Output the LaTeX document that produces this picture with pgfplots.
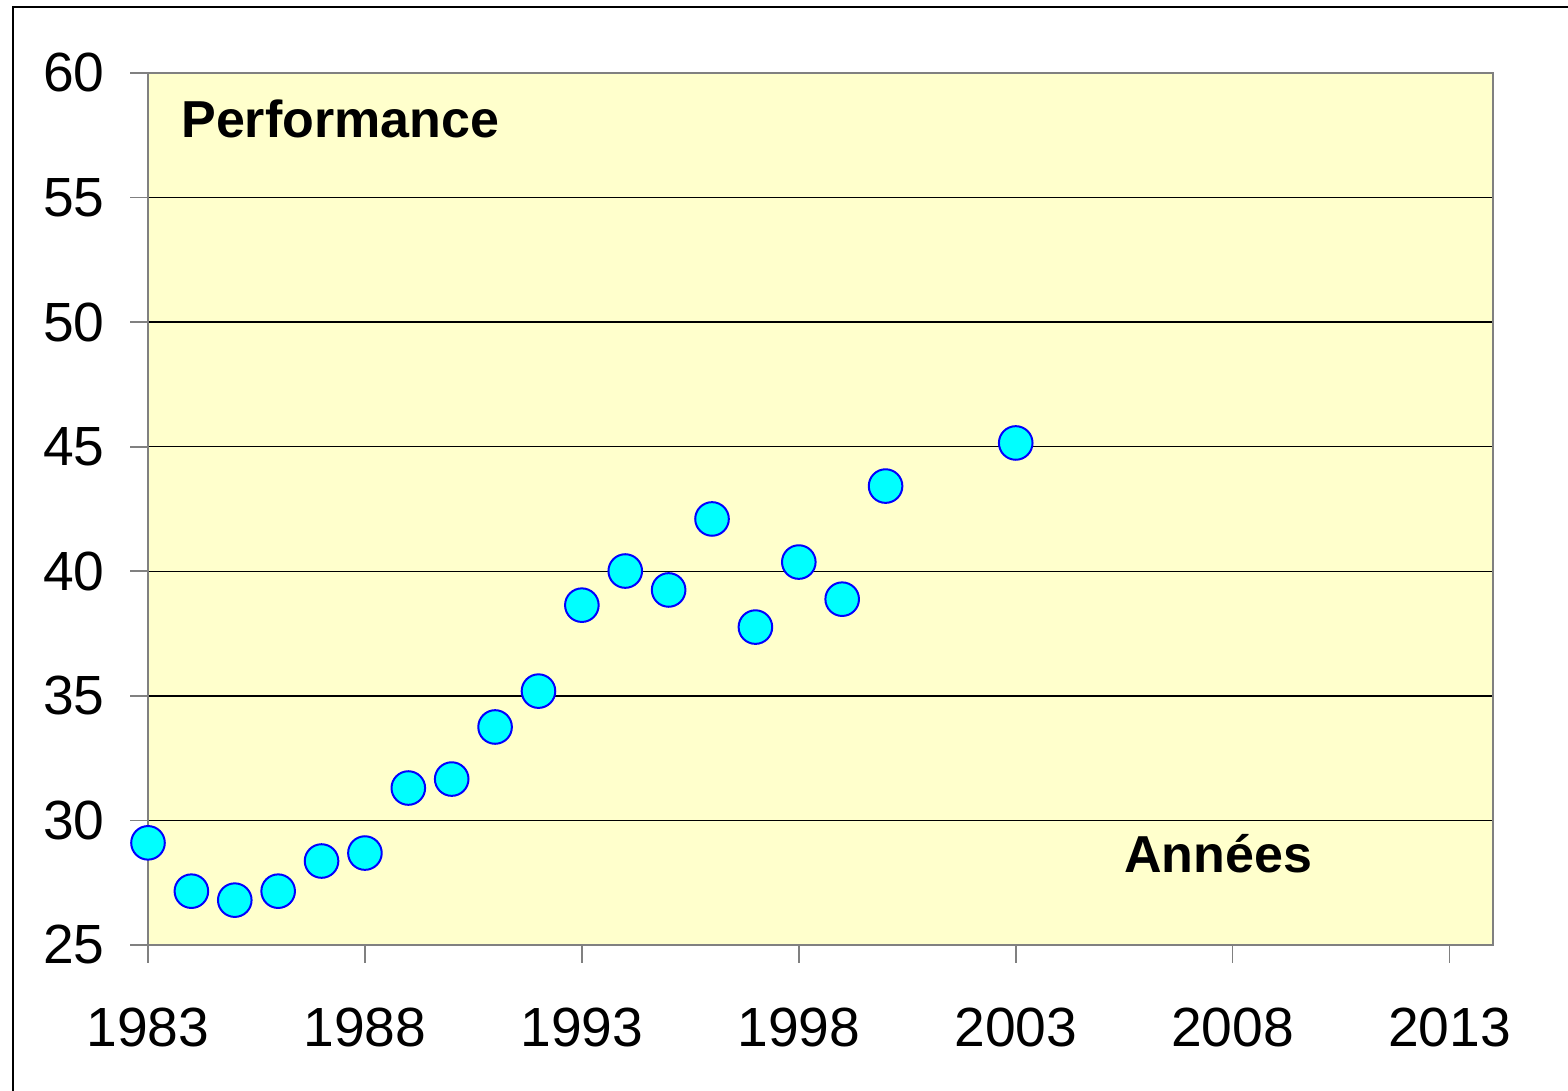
\documentclass[border=0pt]{standalone}
\usepackage{fontspec}
\setmainfont{Liberation Sans}
\usepackage{pgfplots}
\pgfplotsset{compat=1.18}
\definecolor{bgyellow}{HTML}{FFFFCC}
\definecolor{axgray}{HTML}{808080}
\definecolor{markcyan}{HTML}{00FFFF}
\definecolor{markblue}{HTML}{0000FF}
\begin{document}
\begin{tikzpicture}
\begin{axis}[
 at={(37pt,36.5pt)}, anchor=south west,
 width=336.25pt, height=218pt, scale only axis,
 xmin=1983, xmax=2014, ymin=25, ymax=60,
 xtick={1983,1988,1993,1998,2003,2008,2013},
 ytick={25,30,35,40,45,50,55,60},
 scaled ticks=false,
 /pgf/number format/1000 sep={},
 /pgf/number format/assume math mode=true,
 axis background/.style={fill=bgyellow},
 axis line style={axgray, line width=0.5pt},
 ymajorgrids, major grid style={black, line width=0.35pt},
 tick align=outside, major tick length=4.5pt,
 tick style={axgray, line width=0.4pt},
 xtick pos=bottom, ytick pos=left,
 ticklabel style={font=\fontsize{13.8}{16}\selectfont},
 xticklabel style={yshift=-7.7pt},
 yticklabel style={xshift=-2.8pt},
 clip=false,
]
\addplot[only marks, mark=*, mark size=4.2pt,
  mark options={fill=markcyan, draw=markblue, line width=0.5pt}]
 coordinates {
 (1983,29.1) (1984,27.16) (1985,26.8) (1986,27.16) (1987,28.37) (1988,28.69)
 (1989,31.3) (1990,31.66) (1991,33.75) (1992,35.19) (1993,38.64) (1994,40.01)
 (1995,39.25) (1996,42.1) (1997,37.76) (1998,40.37) (1999,38.88) (2000,43.42)
 (2003,45.15)
 };
\node[anchor=base west, inner sep=0, font=\bfseries\fontsize{13}{15}\selectfont] at (axis cs:1983.75,57.43) {Performance};
\node[anchor=base west, inner sep=0, font=\bfseries\fontsize{13}{15}\selectfont] at (axis cs:2005.48,27.89) {Années};
\end{axis}
\draw[line width=0.5pt] (3.25pt,-10pt) -- (3.25pt,271pt) -- (400pt,271pt);
\pgfresetboundingbox
\useasboundingbox (0,0) rectangle (392pt,272.75pt);
\end{tikzpicture}
\end{document}
